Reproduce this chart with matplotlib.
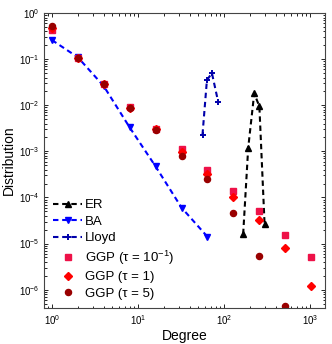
import matplotlib
matplotlib.use("Agg")
import matplotlib.pyplot as plt

plt.rcParams['font.family'] = ['Liberation Sans', 'DejaVu Sans']
plt.rcParams['mathtext.fontset'] = 'custom'
plt.rcParams['mathtext.rm'] = 'Liberation Sans'
plt.rcParams['mathtext.it'] = 'Liberation Sans:italic'

# ER
er_deg = [166, 190, 223, 256, 294]
er_val = [1.6e-5, 1.2e-3, 0.018, 9.5e-3, 2.7e-5]

# BA
ba_deg = [1, 2, 4, 8, 16, 32, 64]
ba_val = [0.26, 0.11, 0.026, 3.3e-3, 4.7e-4, 6.0e-5, 1.4e-5]

# Lloyd
lloyd_deg = [56, 63, 72, 85]
lloyd_val = [2.3e-3, 0.035, 0.05, 0.012]

# GGP
ggp_deg = [1, 2, 4, 8, 16, 32, 64, 128, 256, 512, 1024]
ggp_t01 = [0.42, 0.105, 0.029, 9.0e-3, 3.1e-3, 1.1e-3, 3.9e-4, 1.35e-4, 5.0e-5, 1.5e-5, 5.0e-6]
ggp_t1 = [0.47, 0.105, 0.029, 8.8e-3, 3.0e-3, 9.5e-4, 3.3e-4, 1.0e-4, 3.3e-5, 8.1e-6, 1.2e-6]
ggp_t5 = [0.52, 0.105, 0.029, 8.6e-3, 2.9e-3, 8.1e-4, 2.5e-4, 4.7e-5, 5.5e-6, 4.5e-7]

fig = plt.figure(figsize=(3.32, 3.44), dpi=100)
ax = fig.add_axes([0.1325, 0.1047, 0.8465, 0.8573])

dash = (2.6, 1.8)
ax.plot(er_deg, er_val, '--', dashes=dash, color='black', marker='^', ms=5, lw=1.5, label='ER')
ax.plot(ba_deg, ba_val, '--', dashes=dash, color='blue', marker='v', ms=5, lw=1.5, label='BA')
ax.plot(lloyd_deg, lloyd_val, '--', dashes=dash, color='#0000aa', marker='+', ms=5, mew=1.4, lw=1.5, label='Lloyd')
ax.plot(ggp_deg, ggp_t01, 's', color='#ee1148', ms=3.8, ls='none', label='GGP (τ = 10$^{-1}$)')
ax.plot(ggp_deg, ggp_t1, 'D', color='#ff0000', ms=3.6, ls='none', label='GGP (τ = 1)')
ax.plot(ggp_deg[:len(ggp_t5)], ggp_t5, 'o', color='#990000', ms=4.4, ls='none', label='GGP (τ = 5)')

ax.set_xscale('log')
ax.set_yscale('log')
ax.set_xlim(0.81, 1480)
ax.set_ylim(4e-7, 1)
ax.tick_params(which='both', direction='in', top=True, right=True, labelsize=7, width=0.6)
ax.tick_params(which='major', length=3)
ax.tick_params(which='minor', length=1.8)
for s in ax.spines.values():
    s.set_linewidth(0.8)
    s.set_color('#444444')

ax.set_xlabel('Degree', fontsize=10, labelpad=2)
ax.set_ylabel('Distribution', fontsize=10, labelpad=2)

ax.legend(loc='upper left', bbox_to_anchor=(0.0, 0.40), frameon=False, fontsize=9.5,
          handlelength=2.2, handletextpad=0.2, labelspacing=0.32, borderaxespad=0.3)

fig.savefig('out.png', dpi=100)
